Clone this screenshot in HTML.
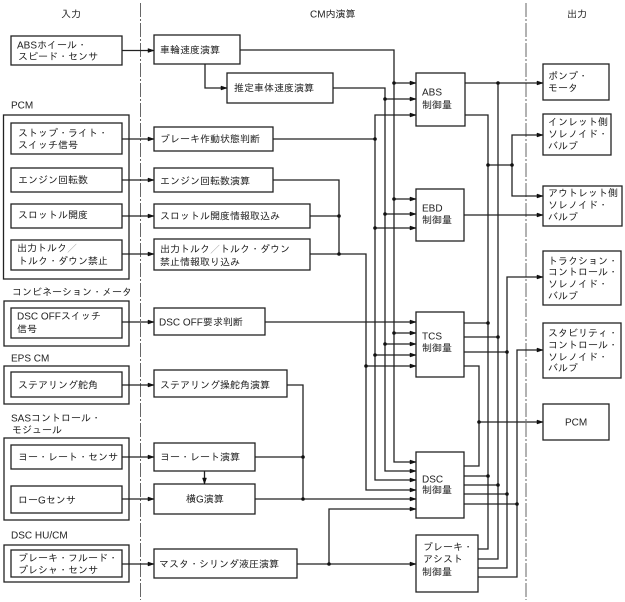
<!DOCTYPE html>
<html><head><meta charset="utf-8"><style>
html,body{margin:0;padding:0;background:#fff;width:625px;height:602px;overflow:hidden}
svg{display:block}
text{font-family:"Liberation Sans","IPAGothic","Noto Sans CJK JP",sans-serif;font-size:10px;fill:#222;dominant-baseline:central}
rect,path{fill:none;stroke:#222;stroke-width:1.3}
.g{stroke:#666;stroke-width:1;stroke-dasharray:14 2 2 2}
</style></head><body>
<svg width="625" height="602" viewBox="0 0 625 602" xmlns="http://www.w3.org/2000/svg">
<defs>
<path id="a" d="M-6,-2 L0,0 L-6,2Z" style="fill:#111;stroke:#111;stroke-width:.5"/>
<circle id="d" r="1.8" fill="#111"/>
</defs>
<path class="g" d="M140.5,3V600M526,3V600"/>

<!-- groups -->
<rect x="3.5" y="115" width="125.5" height="164"/>
<rect x="4" y="301" width="125" height="45"/>
<rect x="4" y="366" width="125" height="38"/>
<rect x="4" y="438" width="125" height="82"/>
<rect x="4" y="545" width="125" height="37"/>
<!-- inputs -->
<rect x="11" y="36" width="111" height="29"/>
<rect x="11" y="123" width="111" height="31"/>
<rect x="11" y="168" width="111" height="24"/>
<rect x="11" y="204" width="111" height="24"/>
<rect x="11" y="240" width="111" height="30"/>
<rect x="11" y="308" width="111" height="30"/>
<rect x="11" y="372" width="111" height="25"/>
<rect x="11" y="445" width="111" height="24"/>
<rect x="11" y="486" width="111" height="27"/>
<rect x="11" y="550" width="111" height="27"/>
<!-- calc -->
<rect x="154" y="35" width="86" height="29"/>
<rect x="227" y="73" width="106" height="30"/>
<rect x="154" y="127" width="119" height="24"/>
<rect x="154" y="168" width="119" height="24"/>
<rect x="154" y="204" width="156" height="24"/>
<rect x="154" y="239" width="156" height="31"/>
<rect x="154" y="308" width="111" height="27"/>
<rect x="154" y="370" width="133" height="27"/>
<rect x="154" y="443" width="101" height="28"/>
<rect x="154" y="484" width="101" height="30"/>
<rect x="154" y="549" width="143" height="29"/>
<!-- control -->
<rect x="416" y="73" width="49" height="53"/>
<rect x="416" y="189" width="48" height="52"/>
<rect x="416" y="312" width="48" height="65"/>
<rect x="416" y="452" width="48" height="66"/>
<rect x="416" y="535" width="62" height="57"/>
<!-- outputs -->
<rect x="543" y="64" width="66" height="36"/>
<rect x="543" y="114" width="68" height="41"/>
<rect x="543" y="186" width="79" height="40"/>
<rect x="543" y="251" width="78" height="54"/>
<rect x="543" y="323" width="78" height="55"/>
<rect x="543" y="404" width="66" height="36"/>

<!-- wires -->
<path d="M122,50.5H154M122,139H154M122,180H154M122,216H154M122,254H154M122,322H154M122,385H154M122,457H154M122,499H154M122,564H154"/>
<path d="M205,64V88H227M204.5,471V484"/>
<path d="M240,50H394V462H416M394,83H416M394,199H416M394,333H416"/>
<path d="M333,88H385V471H416M385,99H416M385,214H416M385,344H416"/>
<path d="M273,139H375M416,115H375V480H416M375,228H416M375,355H416"/>
<path d="M273,180H339V254M310,216H339M310,254H366V490H416M366,366H416"/>
<path d="M265,322H416"/>
<path d="M287,385H303V499M255,457H303M255,499H416"/>
<path d="M297,564H416M329,564V509H416"/>
<path d="M465,83H543M498,83V559H478M465,115H488V549H478M488,165H512M543,135H512V196H543M464,215H543"/>
<path d="M464,323H488M464,337H498M464,352H507M464,366H479V466H464M479,422H543"/>
<path d="M543,277H507V568H478M543,350H517V577H478"/>
<path d="M464,476H488M464,485H498M464,494H507M464,504H517"/>

<!-- arrowheads -->
<use href="#a" x="154" y="50.5"/><use href="#a" x="154" y="139"/><use href="#a" x="154" y="180"/><use href="#a" x="154" y="216"/><use href="#a" x="154" y="254"/><use href="#a" x="154" y="322"/><use href="#a" x="154" y="385"/><use href="#a" x="154" y="457"/><use href="#a" x="154" y="499"/><use href="#a" x="154" y="564"/>
<use href="#a" x="227" y="88"/>
<path d="M202.5,478L204.5,484L206.5,478Z" style="fill:#111;stroke:#111;stroke-width:.5"/>
<use href="#a" x="416" y="83"/><use href="#a" x="416" y="99"/><use href="#a" x="416" y="115"/>
<use href="#a" x="416" y="199"/><use href="#a" x="416" y="214"/><use href="#a" x="416" y="228"/>
<use href="#a" x="416" y="322"/><use href="#a" x="416" y="333"/><use href="#a" x="416" y="344"/><use href="#a" x="416" y="355"/><use href="#a" x="416" y="366"/>
<use href="#a" x="416" y="462"/><use href="#a" x="416" y="471"/><use href="#a" x="416" y="480"/><use href="#a" x="416" y="490"/><use href="#a" x="416" y="499"/><use href="#a" x="416" y="509"/>
<use href="#a" x="416" y="564"/>
<use href="#a" x="543" y="83"/><use href="#a" x="543" y="135"/><use href="#a" x="543" y="196"/><use href="#a" x="543" y="215"/><use href="#a" x="543" y="277"/><use href="#a" x="543" y="350"/><use href="#a" x="543" y="422"/>

<!-- dots -->
<use href="#d" x="394" y="83"/><use href="#d" x="385" y="99"/><use href="#d" x="375" y="139"/>
<use href="#d" x="394" y="199"/><use href="#d" x="385" y="214"/><use href="#d" x="375" y="228"/>
<use href="#d" x="339" y="216"/><use href="#d" x="339" y="254"/>
<use href="#d" x="394" y="333"/><use href="#d" x="385" y="344"/><use href="#d" x="375" y="355"/><use href="#d" x="366" y="366"/>
<use href="#d" x="303" y="457"/><use href="#d" x="303" y="499"/><use href="#d" x="329" y="564"/>
<use href="#d" x="498" y="83"/><use href="#d" x="488" y="165"/><use href="#d" x="512" y="165"/>
<use href="#d" x="488" y="323"/><use href="#d" x="498" y="337"/><use href="#d" x="507" y="352"/>
<use href="#d" x="479" y="422"/>
<use href="#d" x="488" y="476"/><use href="#d" x="498" y="485"/><use href="#d" x="507" y="494"/><use href="#d" x="517" y="504"/>

<!-- text -->
<g transform="translate(0,1)">
<text x="61" y="14">入力</text><text x="310" y="14">CM内演算</text><text x="567" y="14">出力</text>
<text x="17" y="45">ABSホイール・</text><text x="18" y="56.5">スピード・センサ</text>
<text x="11" y="105">PCM</text>
<text x="18" y="133">ストップ・ライト・</text><text x="18" y="145">スイッチ信号</text>
<text x="18" y="180">エンジン回転数</text>
<text x="18" y="215">スロットル開度</text>
<text x="17" y="248">出力トルク<tspan style="fill:#aaa">／</tspan></text><text x="18" y="261">トルク・ダウン禁止</text>
<text x="12" y="292">コンビネーション・メータ</text>
<text x="17" y="316">DSC OFFスイッチ</text><text x="17" y="329">信号</text>
<text x="11" y="358">EPS CM</text>
<text x="18" y="385">ステアリング舵角</text>
<text x="11" y="418">SASコントロール・</text><text x="12" y="430">モジュール</text>
<text x="18" y="457">ヨー・レート・センサ</text>
<text x="18" y="500">ローGセンサ</text>
<text x="11" y="535">DSC HU/CM</text>
<text x="18" y="558">ブレーキ・フルード・</text><text x="18" y="570">プレシャ・センサ</text>

<text x="160" y="50">車輪速度演算</text>
<text x="234" y="88">推定車体速度演算</text>
<text x="160" y="139">ブレーキ作動状態判断</text>
<text x="160" y="181">エンジン回転数演算</text>
<text x="160" y="216">スロットル開度情報取込み</text>
<text x="160" y="249">出力トルク<tspan style="fill:#aaa">／</tspan>トルク・ダウン</text><text x="160" y="262">禁止情報取り込み</text>
<text x="159" y="322">DSC OFF要求判断</text>
<text x="160" y="385">ステアリング操舵角演算</text>
<text x="160" y="457">ヨー・レート演算</text>
<text x="186" y="499">横G演算</text>
<text x="159" y="564">マスタ・シリンダ液圧演算</text>

<text x="422" y="92">ABS</text><text x="422" y="105">制御量</text>
<text x="422" y="208">EBD</text><text x="422" y="220">制御量</text>
<text x="422" y="336">TCS</text><text x="422" y="348">制御量</text>
<text x="422" y="479">DSC</text><text x="422" y="490">制御量</text>
<text x="423" y="547">ブレーキ・</text><text x="423" y="559">アシスト</text><text x="422" y="572">制御量</text>

<text x="548" y="76">ポンプ・</text><text x="548" y="88">モータ</text>
<text x="548" y="122">インレット側</text><text x="548" y="134">ソレノイド・</text><text x="548" y="146">バルブ</text>
<text x="548" y="193">アウトレット側</text><text x="548" y="205">ソレノイド・</text><text x="548" y="217">バルブ</text>
<text x="548" y="261">トラクション・</text><text x="548" y="272">コントロール・</text><text x="548" y="284">ソレノイド・</text><text x="548" y="296">バルブ</text>
<text x="548" y="333">スタビリティ・</text><text x="548" y="345">コントロール・</text><text x="548" y="357">ソレノイド・</text><text x="548" y="368">バルブ</text>
<text x="565" y="422">PCM</text>
</g>
</svg>
</body></html>
